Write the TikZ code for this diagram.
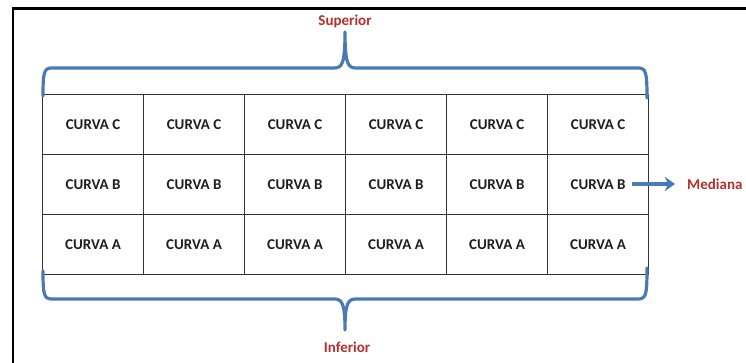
\documentclass[tikz,border=0pt]{standalone}
\usepackage{fontspec}
\setmainfont{Carlito}
\usetikzlibrary{arrows.meta}
\definecolor{bracecol}{RGB}{74,122,180}
\definecolor{labred}{RGB}{185,45,45}
\definecolor{celltxt}{RGB}{30,30,30}
\tikzset{
  brace/.style={draw=bracecol, line width=3.2pt, line cap=round, line join=round},
  cell/.style={draw=black!80, line width=1.1pt, minimum width=101pt, minimum height=60pt, inner sep=0pt, anchor=north west,
    font=\fontsize{15}{17}\selectfont\bfseries, text=celltxt},
  lab/.style={font=\fontsize{15}{17}\selectfont\bfseries, text=labred, inner sep=0pt},
  frame/.style={draw=black, line width=2.6pt}
}
\begin{document}
\begin{tikzpicture}[x=1pt,y=-1pt]
\useasboundingbox (0,0) rectangle (746,363);
% frame
\coordinate (fa) at (13,363);
\coordinate (fb) at (13,8.5);
\coordinate (fc) at (746,8.5);
\draw[frame] (fa) -- (fb) -- (fc);
% table
\foreach \r/\lab in {0/C,1/B,2/A}{
  \foreach \c in {0,...,5}{
    \node[cell] (c\r\c) at ({42+101*\c},{94+60*\r}) {CURVA \lab};
  }
}
% top brace
\coordinate (tl) at (43,96);
\coordinate (tr) at (647,98);
\coordinate (tt) at (345,32);
\draw[brace] (tl) .. controls (43,72) and (44,68) .. (52,68) -- (334,68)
  .. controls (342,68) and (345,64) .. (tt)
  .. controls (345,64) and (348,68) .. (356,68) -- (638,68)
  .. controls (646,68) and (647,72) .. (tr);
% bottom brace
\coordinate (bl) at (43,271);
\coordinate (br) at (647,268);
\coordinate (bt) at (345,330);
\draw[brace] (bl) .. controls (43,295) and (44,299) .. (52,299) -- (334,299)
  .. controls (342,299) and (345,303) .. (bt)
  .. controls (345,303) and (348,299) .. (356,299) -- (638,299)
  .. controls (646,299) and (647,295) .. (br);
% labels
\node[lab] (sup) at (345,21) {Superior};
\node[lab] (inf) at (347,347) {Inferior};
\node[lab, anchor=west] (med) at (687,184) {Mediana};
\coordinate (as) at (632,184);
\draw[draw=bracecol, line width=3.5pt, -{Stealth[length=10pt,width=14pt,inset=3pt]}] (as) -- ([xshift=-12pt]med.west);
\end{tikzpicture}
\end{document}
